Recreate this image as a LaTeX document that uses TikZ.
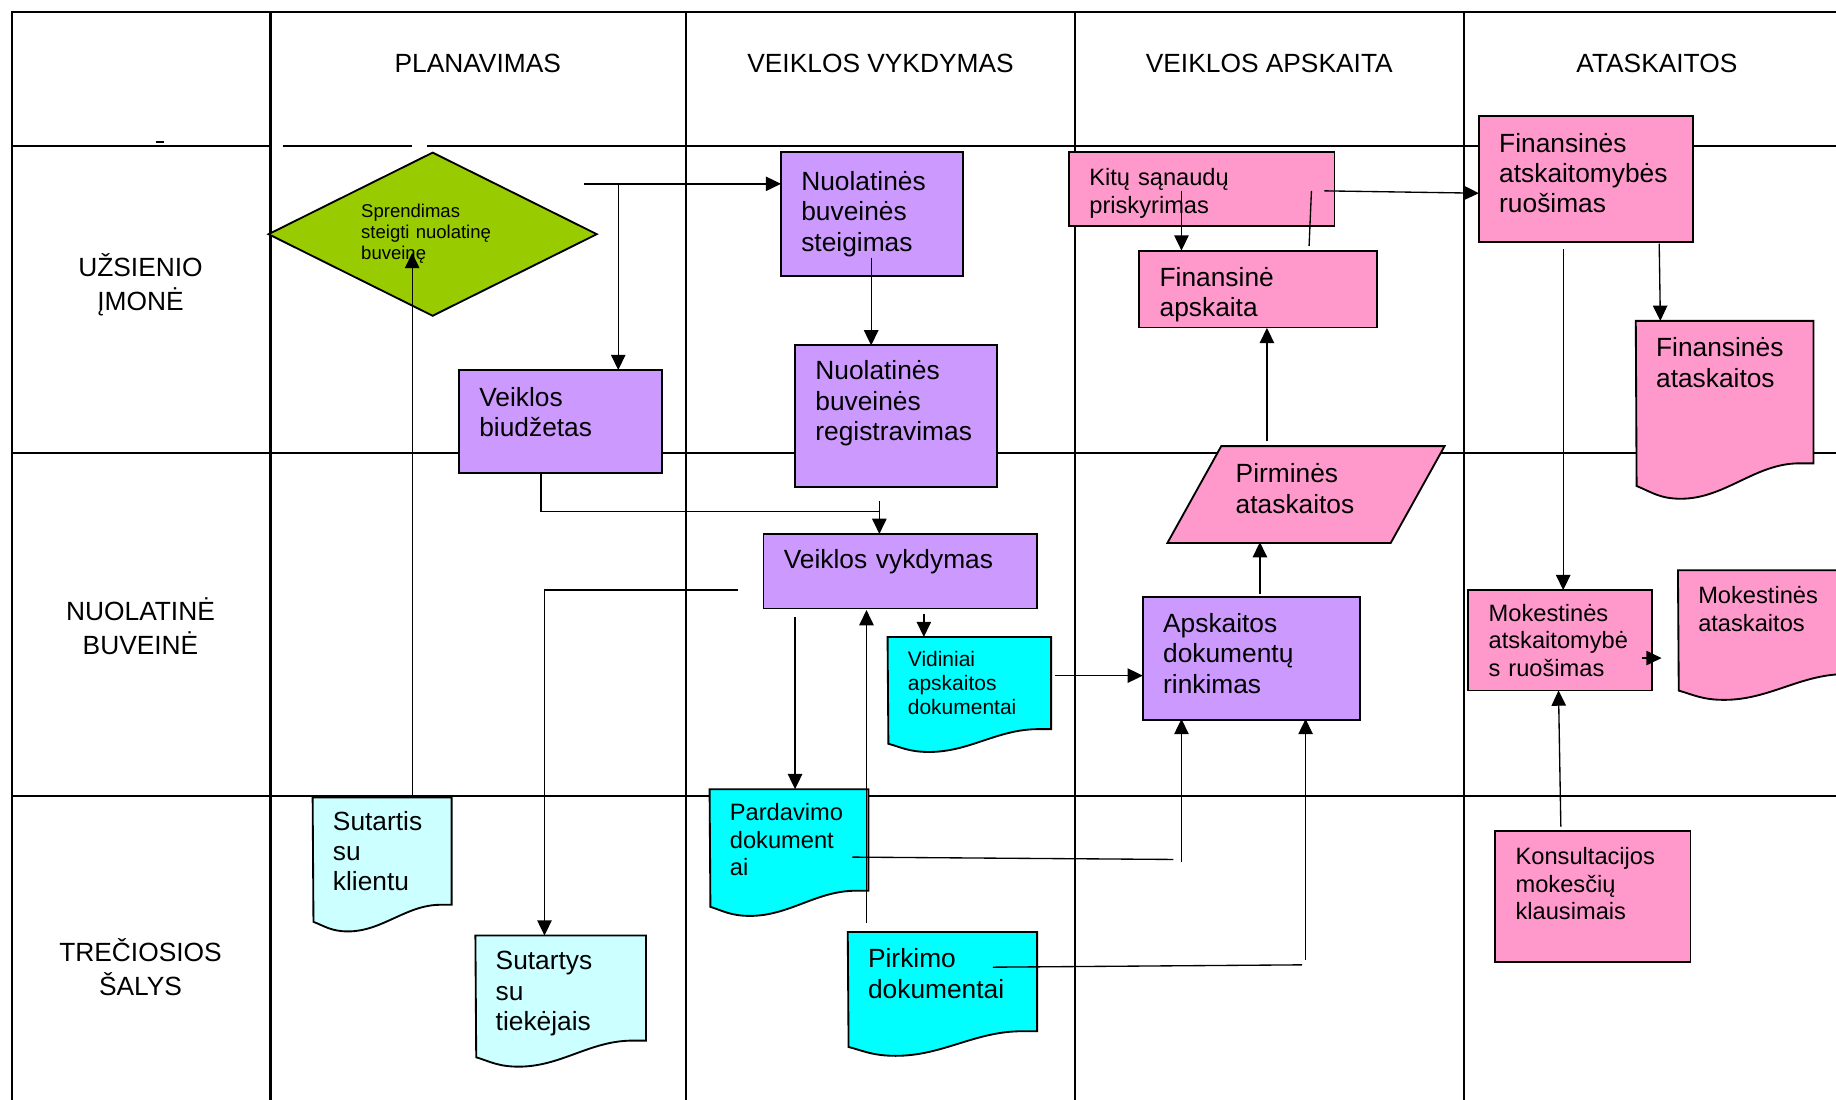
\documentclass[tikz,border=0pt]{standalone}
\usepackage{fontspec}
\setmainfont{Liberation Sans}
\usetikzlibrary{shapes,arrows.meta,positioning,calc,backgrounds}

\definecolor{vio}{HTML}{CC99FF}
\definecolor{ros}{HTML}{FF99CC}
\definecolor{cya}{HTML}{00FFFF}
\definecolor{lcya}{HTML}{CCFFFF}
\definecolor{grn}{HTML}{99CC00}
\newcommand{\pxu}{0.02cm}

\begin{document}
\begin{tikzpicture}[x=0.02cm, y=-0.02cm,
    gridline/.style={line width=1pt},
    boxline/.style={draw=black, line width=0.9pt},
    conline/.style={line width=0.65pt},
    conarrow/.style={conline, -{Triangle[length=7.4pt, width=7pt]}},
    bigtxt/.style={font={\hyphenpenalty=10000 \fontsize{12.8}{14.8}\selectfont}},
    midtxt/.style={font={\hyphenpenalty=10000 \fontsize{11.5}{13.4}\selectfont}},
    smltxt/.style={font={\hyphenpenalty=10000 \fontsize{10.2}{11.7}\selectfont}},
    dmdtxt/.style={font={\hyphenpenalty=10000 \fontsize{9}{10.2}\selectfont}},
    headtxt/.style={font={\fontsize{12.8}{16.4}\selectfont}, align=center},
    procbox/.style n args={4}{rectangle, anchor=north west, inner xsep=17*\pxu, inner ysep=0pt,
        /utils/exec={\pgfmathsetlengthmacro\boxtw{(#2-34)*\pxu}}, text width=\boxtw,
        minimum height={(#3-#4)*\pxu}, align=left,
        append after command={\pgfextra{\begin{pgfonlayer}{background}
            \path[boxline, fill=#1] (\tikzlastnode.north west)
                rectangle ($(\tikzlastnode.south east)+(0,#4)$);
            \end{pgfonlayer}}}},
    docbox/.style n args={4}{rectangle, anchor=north west, inner xsep=17*\pxu, inner ysep=0pt,
        /utils/exec={\pgfmathsetlengthmacro\boxtw{(#2-34)*\pxu}}, text width=\boxtw,
        minimum height={(#3-#4)*\pxu}, align=left,
        append after command={\pgfextra{\begin{pgfonlayer}{background}
            \path[boxline, fill=#1] (\tikzlastnode.north west) -- (\tikzlastnode.north east)
                -- ($(\tikzlastnode.south east)+(0,#4)$) -- ++({-0.08*#2},0)
                .. controls +({-0.25*#2},0) and +({0.25*#2},0) .. ++({-0.67*#2},{0.25*#3})
                .. controls +({-0.12*#2},0) and +({0.08*#2},{0.04*#3}) .. ++({-0.25*#2},{-0.09*#3})
                -- cycle;
            \end{pgfonlayer}}}},
    slantbox/.style n args={5}{rectangle, anchor=north west, inner xsep=12*\pxu, inner ysep=0pt,
        /utils/exec={\pgfmathsetlengthmacro\boxtw{(#2-24)*\pxu}}, text width=\boxtw,
        minimum height={(#3-#5)*\pxu}, align=left,
        append after command={\pgfextra{\begin{pgfonlayer}{background}
            \path[boxline, fill=#1] (\tikzlastnode.north west) -- (\tikzlastnode.north east)
                -- ($(\tikzlastnode.south east)+(-#4,#5)$) -- ($(\tikzlastnode.south west)+(-#4,#5)$)
                -- cycle;
            \end{pgfonlayer}}}}]

    \useasboundingbox (0,0) rectangle (1568,939);

    \begin{scope}[on background layer]
        \fill[white] (0,0) rectangle (1568,939);
        \draw[gridline] (1590,10) -- (10,10) -- (10,950);
        \foreach \cx in {231,586,918,1250}
            \draw[gridline] (\cx,10) -- (\cx,950);
        \draw[gridline] (10,125) -- (231,125) (242,125) -- (352,125) (365,125) -- (1590,125);
        \draw[gridline] (10,387) -- (1590,387);
        \draw[gridline] (10,680) -- (1590,680);
        \draw[gridline] (133,121) -- (140,121);
    \end{scope}

    \node[headtxt] (hplan) at (408,54) {PLANAVIMAS};
    \node[headtxt] (hvykd) at (752,54) {VEIKLOS VYKDYMAS};
    \node[headtxt] (hapsk) at (1084,54) {VEIKLOS APSKAITA};
    \node[headtxt] (hatask) at (1415,54) {ATASKAITOS};
    \node[headtxt] (rimone) at (120,243) {UŽSIENIO\\ĮMONĖ};
    \node[headtxt] (rbuveine) at (120,535) {NUOLATINĖ\\BUVEINĖ};
    \node[headtxt] (rsalys) at (120,826) {TREČIOSIOS\\ŠALYS};

    \node[diamond, aspect=2, boxline, fill=grn, minimum width=281*\pxu, minimum height=140*\pxu,
        inner sep=0pt, text width=122*\pxu, align=left, dmdtxt] (sprendimas) at (369.5,200) {Sprendimas\\steigti nuolatinę\\buveinę};
    \node[procbox={vio}{155}{105}{0}, bigtxt] (steigimas) at (667,130) {Nuolatinės\\buveinės\\steigimas};
    \node[procbox={vio}{173}{87}{16}, bigtxt] (biudzetas) at (392,316) {Veiklos\\biudžetas};
    \node[procbox={vio}{172}{120}{22}, bigtxt] (registravimas) at (679,295) {Nuolatinės\\buveinės\\registravimas};
    \node[procbox={vio}{233}{63}{16}, bigtxt] (vykdymas) at (652,456) {Veiklos vykdymas};
    \node[procbox={vio}{185}{104}{9}, bigtxt] (rinkimas) at (976,510) {Apskaitos\\dokumentų\\rinkimas};
    \node[procbox={ros}{226}{62}{-8}, midtxt] (kitu) at (913,130) {Kitų sąnaudų\\priskyrimas};
    \node[procbox={ros}{202}{65}{-10}, bigtxt] (finapsk) at (973,214) {Finansinė\\apskaita};
    \node[slantbox={ros}{190}{82}{46}{10}, bigtxt] (pirmines) at (1043,381) {Pirminės\\ataskaitos};
    \node[procbox={ros}{182}{107}{10}, bigtxt] (finruos) at (1263,99) {Finansinės\\atskaitomybės\\ruošimas};
    \node[procbox={ros}{156}{85}{0}, midtxt] (mokruos) at (1254,504) {Mokestinės\\atskaitomybė\\s ruošimas};
    \node[procbox={ros}{166}{111}{22}, midtxt] (konsult) at (1277,710) {Konsultacijos\\mokesčių\\klausimais};

    \node[docbox={cya}{139}{78}{0}, smltxt] (vidiniai) at (758,544) {Vidiniai\\apskaitos\\dokumentai};
    \node[docbox={ros}{151}{121}{50}, bigtxt] (finatask) at (1397,274) {Finansinės\\ataskaitos};
    \node[docbox={ros}{155}{88}{22}, midtxt] (mokatask) at (1433,487) {Mokestinės\\ataskaitos};
    \node[docbox={lcya}{118}{91}{0}, bigtxt] (sutartis) at (267,681) {Sutartis\\su\\klientu};
    \node[docbox={lcya}{145}{89}{-10}, bigtxt] (sutartys) at (406,799) {Sutartys\\su\\tiekėjais};
    \node[docbox={cya}{135}{86}{0}, midtxt] (pardavimo) at (606,674) {Pardavimo\\dokument\\ai};
    \node[docbox={cya}{161}{84}{14}, bigtxt] (pirkimo) at (724,796) {Pirkimo\\dokumentai};

    \coordinate (sprout) at (499,157);
    \coordinate (sprsplit) at (528,157);
    \coordinate (sprtip) at (352,216);
    \coordinate (stgout) at (744,220);
    \coordinate (bdgout) at (462,403);
    \coordinate (bdgturn) at (751,437);
    \coordinate (vykin) at (751,428);
    \coordinate (vykout) at (630,504);
    \coordinate (pardin) at (679,527);
    \coordinate (pirkout) at (740,788);
    \coordinate (vyktip) at (740,521);
    \coordinate (vidin) at (789,524);
    \coordinate (vidout) at (901,577);
    \coordinate (pardout) at (728,732);
    \coordinate (pardend) at (1002,734);
    \coordinate (rnkleft) at (1009,736);
    \coordinate (pirkline) at (848,826);
    \coordinate (pirkend) at (1112,824);
    \coordinate (rnkright) at (1115,820);
    \coordinate (rnkout) at (1076,507);
    \coordinate (pirout) at (1082,377);
    \coordinate (finin) at (1082,280);
    \coordinate (kitout) at (1009,163);
    \coordinate (finup) at (1118,210);
    \coordinate (kitin) at (1120,163);
    \coordinate (kitright) at (1131,163);
    \coordinate (frout) at (1417,208);
    \coordinate (frdown) at (1335,213);
    \coordinate (mkfrom) at (1402,562);
    \coordinate (mkto) at (1419,562);
    \coordinate (konout) at (1333,706);

    \draw[conarrow] (sprout) -- (steigimas.west |- sprout);
    \draw[conarrow] (sprsplit) -- (sprsplit |- biudzetas.north);
    \draw[conarrow] (352,0 |- sutartis.north) -- (sprtip);
    \draw[conarrow] (stgout) -- (stgout |- registravimas.north);
    \draw[conline] (bdgout) |- (bdgturn);
    \draw[conarrow] (vykin) -- (vykin |- vykdymas.north);
    \draw[conarrow] (vykout) -| (465,0 |- sutartys.north);
    \draw[conarrow] (pardin) -- (pardin |- pardavimo.north);
    \draw[conarrow] (pirkout) -- (vyktip);
    \draw[conarrow] (vidin) -- (vidin |- vidiniai.north);
    \draw[conarrow] (vidout) -- (rinkimas.west |- vidout);
    \draw[conline] (pardout) -- (pardend);
    \draw[conarrow] (rnkleft) -- (1009,614);
    \draw[conline] (pirkline) -- (pirkend);
    \draw[conarrow] (rnkright) -- (1115,614);
    \draw[conarrow] (rnkout) -- (1076,463);
    \draw[conarrow] (pirout) -- (finin);
    \draw[conarrow] (kitout) -- (kitout |- finapsk.north);
    \draw[conline] (finup) -- (kitin);
    \draw[conarrow] (kitright) -- (finruos.west |- 0,165);
    \draw[conarrow] (frout) -- (1418,0 |- finatask.north);
    \draw[conarrow] (frdown) -- (frdown |- mokruos.north);
    \draw[conarrow] (mkfrom) -- (mkto);
    \draw[conarrow] (konout) -- (1331,0 |- mokruos.south);

\end{tikzpicture}
\end{document}
